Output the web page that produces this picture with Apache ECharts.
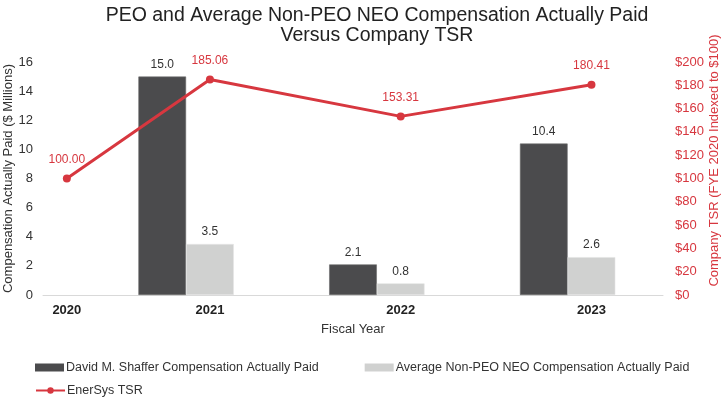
<!DOCTYPE html>
<html>
<head>
<meta charset="utf-8">
<script src="https://cdn.jsdelivr.net/npm/echarts@6/dist/echarts.min.js"></script>
<style>
  html, body { margin: 0; padding: 0; background: #fff; }
  #main { width: 724px; height: 397px; }
</style>
</head>
<body>
<div id="main"></div>
<script>
  // values
  const years = ['2020', '2021', '2022', '2023'];
  const ceoPaid = [null, 15.0, 2.1, 10.4];
  const neoPaid = [null, 3.5, 0.8, 2.6];
  const tsr = [100.00, 185.06, 153.31, 180.41];
  const leftTicks = { min: 0, max: 16, step: 2 };
  const rightTicks = { min: 0, max: 200, step: 20 };

  const nameCeo = 'David M. Shaffer Compensation Actually Paid';
  const nameNeo = 'Average Non-PEO NEO Compensation Actually Paid';
  const nameTsr = 'EnerSys TSR';

  // the source chart spaces its columns unevenly, so lay them out on narrow slots
  const slotCount = 13;
  const yearSlot = [0, 3, 7, 11];

  let slotLabels = [];
  let ceoData = [];
  let neoData = [];
  let tsrData = [];
  for (let i = 0; i < slotCount; i++) {
    slotLabels.push('');
    ceoData.push('-');
    neoData.push('-');
    tsrData.push('-');
  }
  for (let i = 0; i < years.length; i++) {
    let s = yearSlot[i];
    slotLabels[s] = years[i];
    tsrData[s] = tsr[i];
    if (ceoPaid[i] !== null) ceoData[s - 1] = ceoPaid[i];
    if (neoPaid[i] !== null) neoData[s] = neoPaid[i];
  }

  const red = '#d7373f';
  const font = 'Liberation Sans, Arial, sans-serif';

  const myChart = echarts.init(document.getElementById('main'));
  let option = {
    animation: false,
    textStyle: { fontFamily: font },
    title: {
      text: 'PEO and Average Non-PEO NEO Compensation Actually Paid\nVersus Company TSR',
      left: 372,
      top: 1,
      textAlign: 'center',
      textStyle: { fontSize: 19.5, fontWeight: 'normal', color: '#222', lineHeight: 20, fontFamily: font }
    },
    legend: [
      {
        data: [nameCeo, nameNeo],
        left: 30,
        top: 356,
        itemGap: 46,
        itemWidth: 29,
        itemHeight: 8,
        icon: 'rect',
        itemStyle: { borderWidth: 0 },
        textStyle: { fontSize: 12.5, color: '#333', padding: [0, 0, 0, -3] }
      },
      {
        data: [nameTsr],
        left: 30,
        top: 379,
        itemWidth: 29,
        itemHeight: 8,
        textStyle: { fontSize: 12.5, color: '#333', padding: [0, 0, 0, -3] }
      }
    ],
    grid: {
      left: 43,
      right: 61,
      top: 62,
      bottom: 102,
      containLabel: false,
      outerBoundsMode: 'none'
    },
    xAxis: {
      type: 'category',
      data: slotLabels,
      name: 'Fiscal Year',
      nameLocation: 'middle',
      nameGap: 28,
      nameMoveOverlap: false,
      nameTextStyle: { fontSize: 13, color: '#333' },
      axisLine: { lineStyle: { color: '#d9d9d9' } },
      axisTick: { show: false },
      axisLabel: { interval: 0, fontSize: 13, fontWeight: 'bold', color: '#222', margin: 9 }
    },
    yAxis: [
      {
        type: 'value',
        min: leftTicks.min,
        max: leftTicks.max,
        interval: leftTicks.step,
        name: 'Compensation Actually Paid ($ Millions)',
        nameLocation: 'middle',
        nameGap: 28,
        nameMoveOverlap: false,
        nameTextStyle: { fontSize: 13, color: '#333' },
        splitLine: { show: false },
        axisLine: { show: false },
        axisTick: { show: false },
        axisLabel: { fontSize: 13, color: '#333', margin: 10 }
      },
      {
        type: 'value',
        position: 'right',
        min: rightTicks.min,
        max: rightTicks.max,
        interval: rightTicks.step,
        name: 'Company TSR (FYE 2020 Indexed to $100)',
        nameLocation: 'middle',
        nameGap: 45,
        nameRotate: 90,
        nameMoveOverlap: false,
        // the source title sits a bit above the middle of the axis
        nameTextStyle: { fontSize: 13, color: red, padding: [0, 0, 0, 36] },
        splitLine: { show: false },
        axisLine: { show: false },
        axisTick: { show: false },
        axisLabel: { fontSize: 13, color: red, margin: 12, formatter: '${value}' }
      }
    ],
    series: [
      {
        name: nameCeo,
        type: 'bar',
        barGap: '-100%',
        barCategoryGap: '0%',
        data: ceoData,
        itemStyle: { color: '#4b4b4d', borderColor: '#6b6b6d', borderWidth: 0.6 },
        label: { show: true, position: 'top', distance: 6, fontSize: 12, color: '#333', formatter: function (p) { return p.value.toFixed(1); } }
      },
      {
        name: nameNeo,
        type: 'bar',
        barGap: '-100%',
        barCategoryGap: '0%',
        data: neoData,
        itemStyle: { color: '#d0d1d0', borderColor: '#e4e4e4', borderWidth: 0.6 },
        label: { show: true, position: 'top', distance: 6, fontSize: 12, color: '#333', formatter: function (p) { return p.value.toFixed(1); } }
      },
      {
        name: nameTsr,
        type: 'line',
        yAxisIndex: 1,
        data: tsrData,
        connectNulls: true,
        symbol: 'circle',
        symbolSize: 8,
        lineStyle: { color: red, width: 3 },
        itemStyle: { color: red },
        label: { show: true, position: 'top', distance: 9, fontSize: 12, color: red, formatter: function (p) { return p.value.toFixed(2); } }
      }
    ]
  };

  myChart.setOption(option);
  window.addEventListener('resize', function () {
    myChart.resize();
  });
</script>
</body>
</html>
